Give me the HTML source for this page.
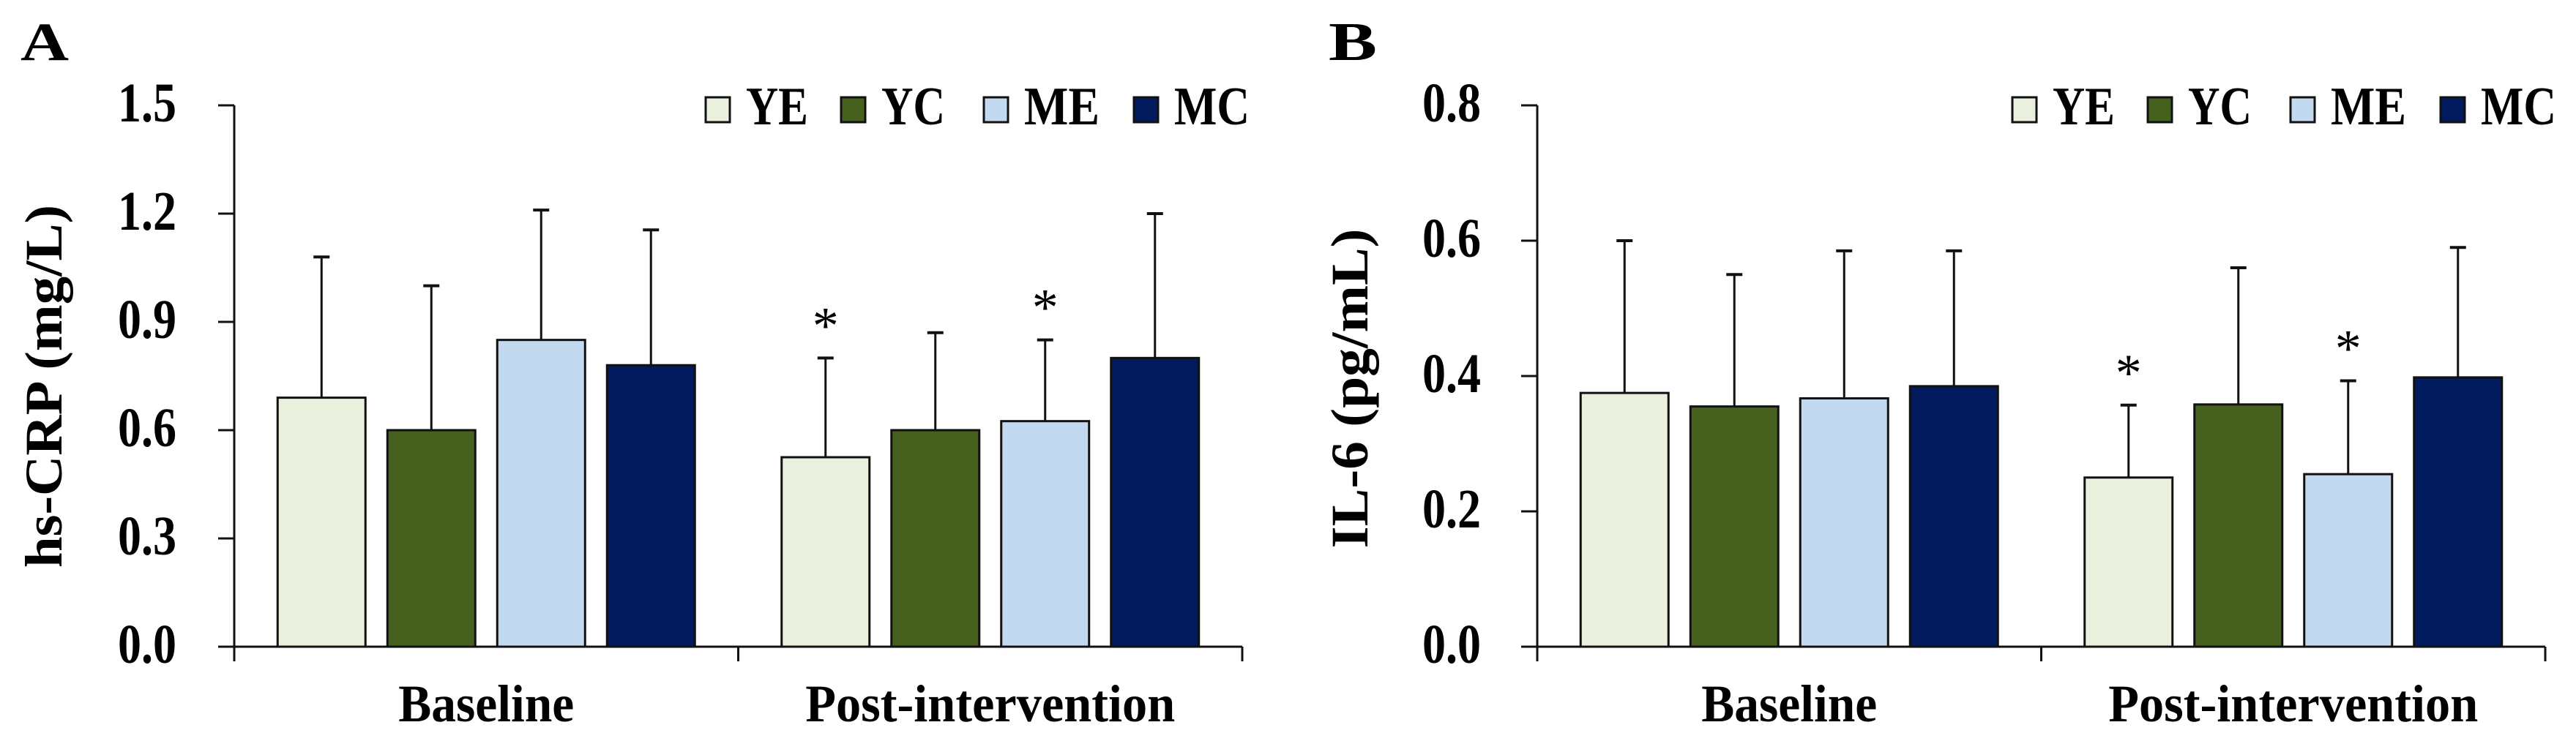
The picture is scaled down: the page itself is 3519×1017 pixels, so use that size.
<!DOCTYPE html>
<html><head><meta charset="utf-8"><style>
html,body{margin:0;padding:0;background:#fff;}
svg{display:block;}
text{font-family:"Liberation Serif","DejaVu Serif",serif;font-weight:bold;fill:#000;}
</style></head><body>
<svg id="chart" width="3519" height="1017" viewBox="0 0 3519 1017" xmlns="http://www.w3.org/2000/svg"></svg>
<script>
const categories = ["Baseline", "Post-intervention"];
const groups = ["YE", "YC", "ME", "MC"];
const colors = ["#e9f0de", "#46611e", "#c3d9f0", "#021a5e"];
const crpMeans = [[0.69, 0.60, 0.85, 0.78], [0.525, 0.60, 0.625, 0.80]];
const crpUpper = [[1.08, 1.00, 1.21, 1.155], [0.80, 0.87, 0.85, 1.20]];
const crpSig = [[false, false, false, false], [true, false, true, false]];
const crpTicks = ["0.0", "0.3", "0.6", "0.9", "1.2", "1.5"];
const il6Means = [[0.375, 0.355, 0.367, 0.385], [0.25, 0.358, 0.255, 0.398]];
const il6Upper = [[0.60, 0.55, 0.585, 0.585], [0.357, 0.56, 0.393, 0.59]];
const il6Sig = [[false, false, false, false], [true, false, true, false]];
const il6Ticks = ["0.0", "0.2", "0.4", "0.6", "0.8"];

const NS = "http://www.w3.org/2000/svg";
const svg = document.getElementById("chart");
function mk(tag, attrs, parent, txt) {
  const e = document.createElementNS(NS, tag);
  for (const k in attrs) e.setAttribute(k, attrs[k]);
  if (txt !== undefined) e.textContent = txt;
  (parent || svg).appendChild(e);
  return e;
}

function panel(o) {
  const g = mk("g", {});
  
  
  const x0 = o.x0, x1 = o.x1, yTop = 144, yZero = 884;
  const maxV = parseFloat(o.ticks[o.ticks.length - 1]);
  const y = v => yZero - v / maxV * (yZero - yTop);
  const catW = (x1 - x0) / categories.length;
  const barW = 120, gap = 30, groupW = groups.length * barW + (groups.length - 1) * gap;
  const xBar = (c, s) => x0 + c * catW + (catW - groupW) / 2 + s * (barW + gap);

  const pl = mk("text", {x: o.letterX, y: 82, "font-size": 74, textLength: 66, lengthAdjust: "spacingAndGlyphs"}, g, o.letter);
  
  

  for (let c = 0; c < categories.length; c++) {
    for (let s = 0; s < groups.length; s++) {
      const bx = xBar(c, s), cx = bx + barW / 2;
      const top = y(o.means[c][s]), up = y(o.upper[c][s]);
      const eb = mk("line", {x1: cx, x2: cx, y1: top, y2: up, stroke: "#111", "stroke-width": 3}, g);
      
      
      const cap = mk("line", {x1: cx - 11, x2: cx + 11, y1: up, y2: up, stroke: "#111", "stroke-width": 4}, g);
      
      
      const r = mk("rect", {x: bx, y: top, width: barW, height: yZero - top, fill: colors[s], stroke: "#111", "stroke-width": 3}, g);
      
      
      if (o.sig[c][s]) {
        const st = mk("text", {x: cx, y: up - 20, "font-size": 72, "text-anchor": "middle", style: "font-weight:normal"}, g, "*");
        
        
      }
    }
  }

  const ya = mk("line", {x1: x0, x2: x0, y1: yTop, y2: yZero, stroke: "#111", "stroke-width": 3}, g);
  
  
  const xa = mk("line", {x1: x0 - 22, x2: x1, y1: yZero, y2: yZero, stroke: "#111", "stroke-width": 3}, g);
  
  
  for (let i = 0; i <= categories.length; i++) {
    const tx = x0 + i * catW;
    const t = mk("line", {x1: tx, x2: tx, y1: yZero, y2: yZero + 20, stroke: "#111", "stroke-width": 3}, g);
    
    
  }
  o.ticks.forEach(tk => {
    const v = parseFloat(tk), ty = y(v);
    const t = mk("line", {x1: x0 - 22, x2: x0, y1: ty, y2: ty, stroke: "#111", "stroke-width": 3}, g);
    
    
    const tl = mk("text", {x: o.tickRight, y: ty + 22, "font-size": 76, "text-anchor": "end", textLength: 80, lengthAdjust: "spacingAndGlyphs"}, g, tk);
    
    
  });

  categories.forEach((cat, c) => {
    const cx = x0 + c * catW + catW / 2;
    const len = c === 0 ? 240 : 505;
    const cl = mk("text", {x: cx - len / 2, y: 986, "font-size": 72, textLength: len, lengthAdjust: "spacingAndGlyphs"}, g, cat);
    
    
  });

  const tt = mk("text", {x: 0, y: 0, "font-size": 72, "text-anchor": "middle", textLength: o.titleLen, lengthAdjust: "spacingAndGlyphs",
    transform: "translate(" + o.titleX + "," + o.titleY + ") rotate(-90)"}, g, o.title);
  
  

  const lg = mk("g", {}, g);
  
  
  const lx = [964, 1149, 1344, 1549];
  const lw = [85, 87, 103, 103];
  groups.forEach((nm, s) => {
    const sx = lx[s] + o.legendShift;
    const sw = mk("rect", {x: sx, y: 133, width: 33, height: 34, fill: colors[s], stroke: "#111", "stroke-width": 3}, lg);
    
    
    const lt = mk("text", {x: sx + 55, y: 170, "font-size": 74, textLength: lw[s], lengthAdjust: "spacingAndGlyphs"}, lg, nm);
    
    
  });
}

panel({name: "panel-a-hs-crp", letter: "A", letterX: 28, x0: 320, x1: 1697, tickRight: 241,
  means: crpMeans, upper: crpUpper, sig: crpSig, ticks: crpTicks,
  title: "hs-CRP (mg/L)", titleX: 84, titleY: 528, titleLen: 496, legendShift: 0});
panel({name: "panel-b-il-6", letter: "B", letterX: 1815, x0: 2100, x1: 3477, tickRight: 2023,
  means: il6Means, upper: il6Upper, sig: il6Sig, ticks: il6Ticks,
  title: "IL-6 (pg/mL)", titleX: 1868, titleY: 531, titleLen: 437, legendShift: 1785});
</script>
</body></html>
